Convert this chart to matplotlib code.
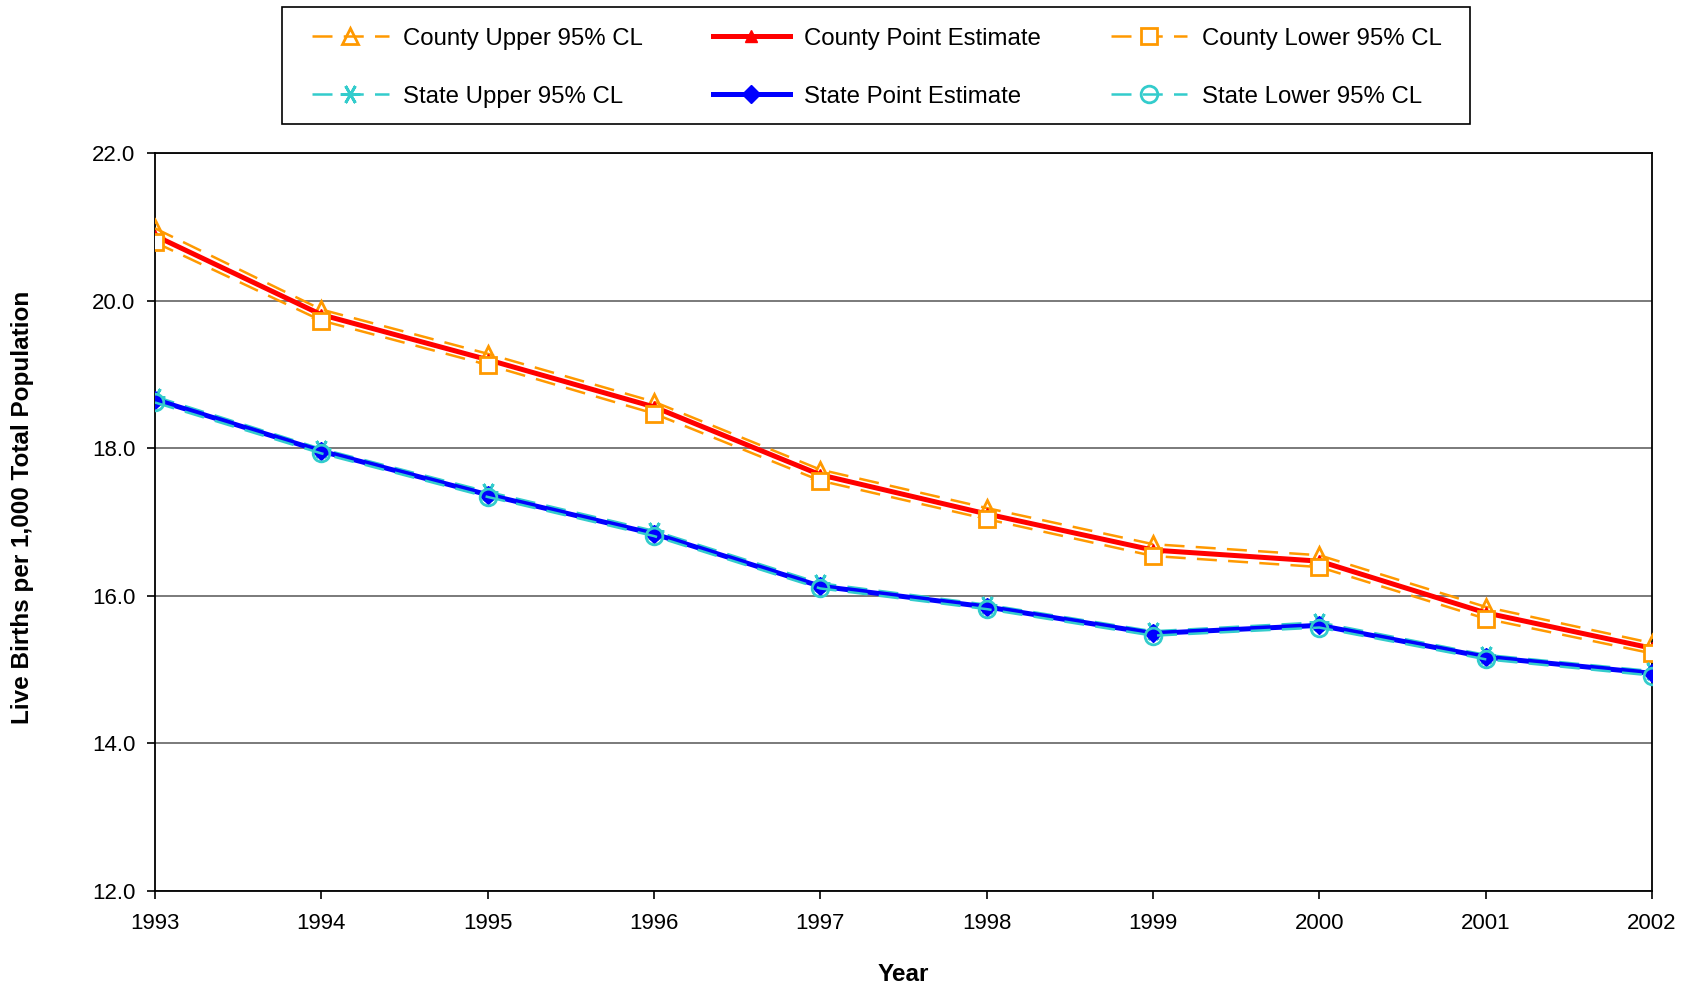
import numpy as np
import matplotlib.pyplot as plt
from matplotlib.patches import Rectangle

plt.rcParams['font.family'] = ['Liberation Sans', 'DejaVu Sans']

years = [1993, 1994, 1995, 1996, 1997, 1998, 1999, 2000, 2001, 2002]

county_upper = [20.98, 19.88, 19.28, 18.63, 17.71, 17.19, 16.70, 16.55, 15.85, 15.36]
county_point = [20.88, 19.81, 19.20, 18.56, 17.64, 17.11, 16.62, 16.47, 15.77, 15.29]
county_lower = [20.79, 19.73, 19.13, 18.47, 17.56, 17.04, 16.54, 16.39, 15.69, 15.22]

state_upper = [18.70, 17.99, 17.41, 16.88, 16.17, 15.88, 15.52, 15.64, 15.20, 14.98]
state_point = [18.66, 17.96, 17.37, 16.84, 16.13, 15.85, 15.49, 15.60, 15.17, 14.95]
state_lower = [18.62, 17.93, 17.34, 16.81, 16.10, 15.82, 15.46, 15.57, 15.14, 14.92]

orange = '#FF9900'
cyan = '#33CCCC'
dash = (0, (8, 4.5))

fig = plt.figure(figsize=(16.9, 9.97), dpi=100)
ax = fig.add_axes([0.0917, 0.1063, 0.8858, 0.7402])

cu, = ax.plot(years, county_upper, color=orange, lw=1.8, linestyle=dash,
              marker='^', ms=11, mfc='none', mec=orange, mew=2,
              label='County Upper 95% CL', zorder=3)
cp, = ax.plot(years, county_point, color='#FF0000', lw=3.6,
              marker='^', ms=8, mfc='#FF0000', mec='#FF0000',
              label='County Point Estimate', zorder=3)
cl, = ax.plot(years, county_lower, color=orange, lw=1.8, linestyle=dash,
              marker='s', ms=11, mfc='white', mec=orange, mew=2,
              label='County Lower 95% CL', zorder=3)
su, = ax.plot(years, state_upper, color=cyan, lw=1.8, linestyle=dash,
              marker=(6, 2, 90), ms=14, mec=cyan, mew=2,
              label='State Upper 95% CL', zorder=3)
sp, = ax.plot(years, state_point, color='#0000FF', lw=3.6,
              marker='D', ms=9, mfc='#0000FF', mec='#0000FF',
              label='State Point Estimate', zorder=3)
sl, = ax.plot(years, state_lower, color=cyan, lw=1.8, linestyle=dash,
              marker='o', ms=12, mfc='none', mec=cyan, mew=2,
              label='State Lower 95% CL', zorder=3)

ax.set_xlim(1993, 2002)
ax.set_ylim(12, 22)
ax.set_xticks(years)
ax.set_xticklabels([str(y) for y in years])
ax.set_yticks(np.arange(12, 22.1, 2))
ax.set_yticklabels(['%.1f' % v for v in np.arange(12, 22.1, 2)])
ax.tick_params(axis='both', labelsize=16, direction='out', length=6, width=1.2)
ax.tick_params(axis='x', pad=10)
ax.tick_params(axis='y', pad=8)
ax.yaxis.grid(True, color='#707070', lw=1.3)
ax.set_axisbelow(True)
for s in ax.spines.values():
    s.set_color('black')
    s.set_linewidth(1.3)

ax.set_xlabel('Year', fontsize=17.5, fontweight='bold', labelpad=21)
ax.set_ylabel('Live Births per 1,000 Total Population', fontsize=17.5,
              fontweight='bold')
ax.yaxis.set_label_coords(-0.081, 0.52)

# legend box drawn separately so the frame size matches the original
fig.patches.append(Rectangle((0.1669, 0.8756), 0.7030, 0.1169,
                             transform=fig.transFigure, fill=False,
                             edgecolor='black', lw=1.2))
handles = [cu, su, cp, sp, cl, sl]
leg = fig.legend(handles, [h.get_label() for h in handles], ncol=3,
                 loc='center', bbox_to_anchor=(0.5188, 0.932),
                 fontsize=17.3, frameon=False, handlelength=3.2,
                 labelspacing=1.5, columnspacing=2.9, handletextpad=0.6)

fig.savefig('out.png', dpi=100)
